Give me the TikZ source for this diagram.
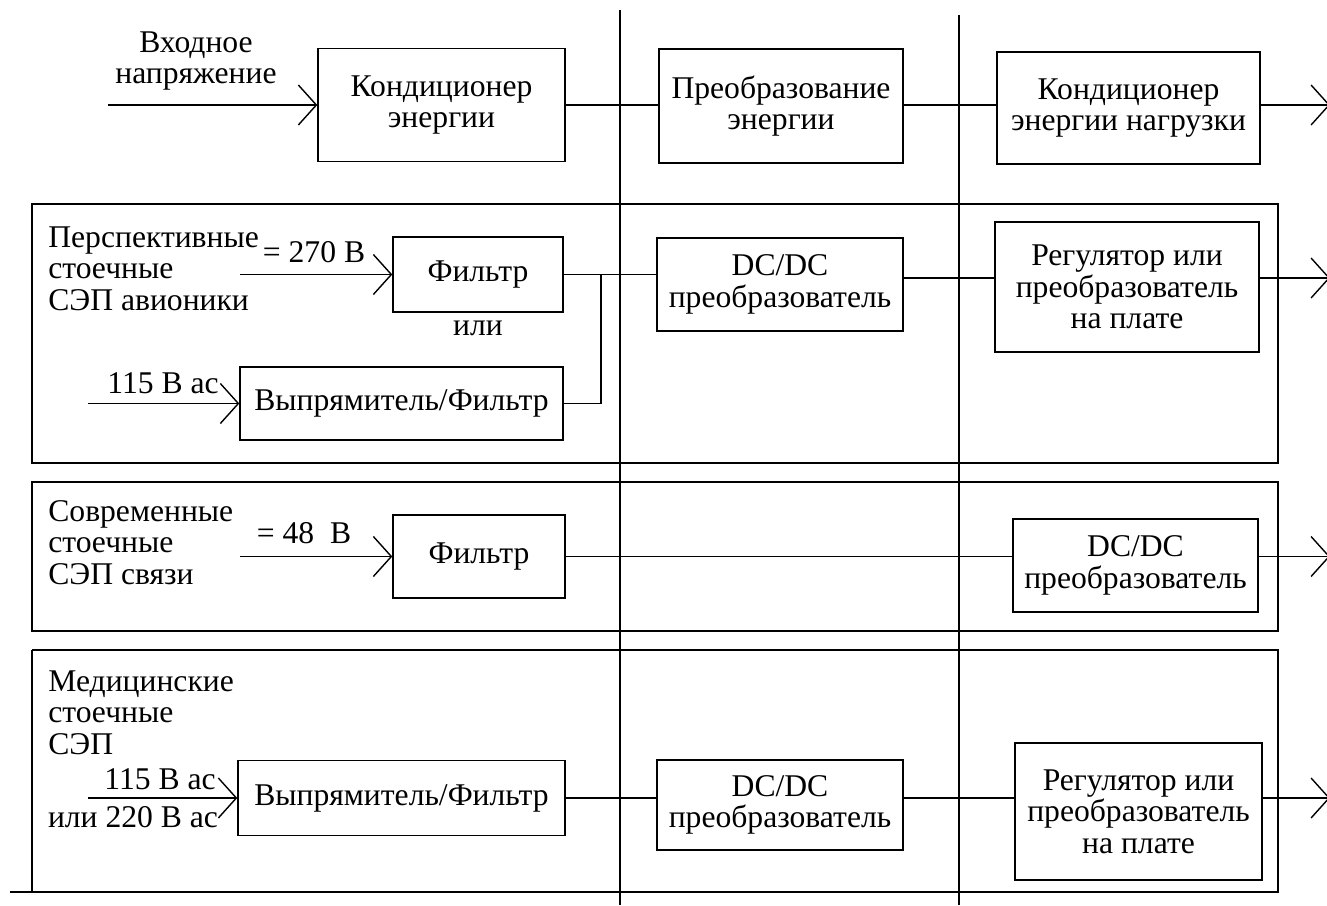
\documentclass[tikz,border=0pt]{standalone}
\usepackage{fontspec}
\setmainfont{Liberation Serif}
\usetikzlibrary{arrows.meta}
\tikzset{
    base/.style={font=\fontsize{18}{18}\selectfont, align=center},
    block/.style 2 args={base, rectangle, draw, line width=0.8pt, inner sep=2pt,
                         minimum width=#1*0.02cm, minimum height=#2*0.02cm},
    group/.style={base, align=left, anchor=north west, inner sep=0pt},
    volt/.style={base, inner sep=0pt},
    wire/.style={line width=0.8pt},
    flow/.style={wire, -{Straight Barb[length=0.36cm, width=0.8cm]}},
    frame/.style={line width=1pt}
}

\begin{document}
\begin{tikzpicture}[x=0.02cm, y=-0.02cm]
  \useasboundingbox (0,0) rectangle (1327,905);

  % Column dividers
  \draw[wire] (620,10) -- (620,905);
  \draw[wire] (959,15) -- (959,905);

  % Group frames
  \draw[frame] (32,204) rectangle (1278,463);
  \draw[frame] (32,482) rectangle (1278,631);
  \draw[frame] (32,650) -- (1278,650) -- (1278,892) -- (10,892);
  \draw[frame] (32,650) -- (32,892);

  % General chain
  \node[volt] (vin) at (196,61) {Входное\\напряжение};
  \coordinate (in0) at (108,105);
  \coordinate (out0) at (1330,105);
  \node[block={247}{113}] (cond) at (441.5,105) {Кондиционер\\энергии};
  \node[block={244}{114}] (conv) at (781,106) {Преобразование\\энергии};
  \node[block={263}{112}] (load) at (1128.5,108) {Кондиционер\\энергии нагрузки};
  \draw[flow] (in0) -- (cond.west);
  \draw[wire] (cond.east) -- (cond.east -| conv.west);
  \draw[wire] (cond.east -| conv.east) -- (cond.east -| load.west);
  \draw[flow] (cond.east -| load.east) -- (out0);

  % Avionics
  \node[group] (g1) at (48,226) {Перспективные\\стоечные\\СЭП авионики};
  \node[volt] (v270) at (314,252) {= 270 В};
  \node[volt] (or1) at (478,328) {или};
  \node[volt] (v115a) at (163,383) {115 В ас};
  \node[block={170}{75}] (filt1) at (478,274.5) {Фильтр};
  \node[block={323}{73}] (rect1) at (401.5,403.5) {Выпрямитель/Фильтр};
  \node[block={246}{93}] (dc1) at (780,284.5) {DC/DC\\преобразователь};
  \node[block={264}{130}] (reg1) at (1127,287) {Регулятор или\\преобразователь\\на плате};
  \coordinate (in1) at (240,274.5);
  \coordinate (in2) at (88,403.5);
  \coordinate (j1) at (601,274.5);
  \coordinate (out1) at (1330,278);
  \draw[flow] (in1) -- (filt1.west);
  \draw[flow] (in2) -- (rect1.west);
  \draw[wire] (filt1.east) -- (filt1.east -| dc1.west);
  \draw[wire] (rect1.east) -| (j1);
  \draw[wire] (out1 -| dc1.east) -- (out1 -| reg1.west);
  \draw[flow] (out1 -| reg1.east) -- (out1);

  % Communications
  \node[group] (g2) at (48,500) {Современные\\стоечные\\СЭП связи};
  \node[volt] (v48) at (304,533) {= 48~~В};
  \node[block={172}{83}] (filt2) at (479,556.5) {Фильтр};
  \node[block={245}{93}] (dc2) at (1135.5,565.5) {DC/DC\\преобразователь};
  \coordinate (in3) at (240,556.5);
  \coordinate (out2) at (1330,556.5);
  \draw[flow] (in3) -- (filt2.west);
  \draw[wire] (filt2.east) -- (filt2.east -| dc2.west);
  \draw[flow] (out2 -| dc2.east) -- (out2);

  % Medical
  \node[group] (g3) at (48,670) {Медицинские\\стоечные\\СЭП};
  \node[volt] (v115b) at (160,779) {115 В ас};
  \node[volt] (v220) at (133,817) {или 220 В ас};
  \node[block={327}{75}] (rect3) at (401.5,798) {Выпрямитель/Фильтр};
  \node[block={246}{90}] (dc3) at (780,805) {DC/DC\\преобразователь};
  \node[block={247}{137}] (reg3) at (1138.5,811.5) {Регулятор или\\преобразователь\\на плате};
  \coordinate (in4) at (88,798);
  \coordinate (out3) at (1330,798);
  \draw[flow] (in4) -- (rect3.west);
  \draw[wire] (rect3.east) -- (rect3.east -| dc3.west);
  \draw[wire] (rect3.east -| dc3.east) -- (rect3.east -| reg3.west);
  \draw[flow] (rect3.east -| reg3.east) -- (out3);
\end{tikzpicture}
\end{document}
